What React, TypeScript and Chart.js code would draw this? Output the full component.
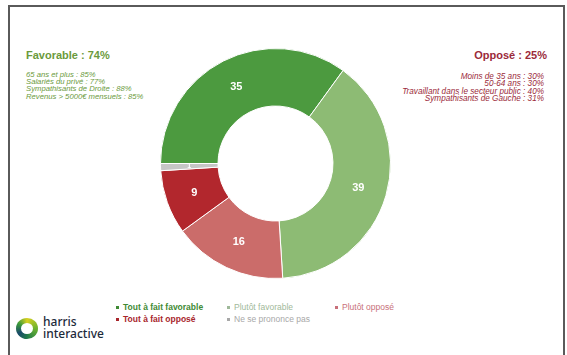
import React, { useEffect, useRef } from "react";
import { Chart, registerables } from "chart.js";

Chart.register(...registerables);

const categories = [
  "Tout à fait favorable",
  "Plutôt favorable",
  "Plutôt opposé",
  "Tout à fait opposé",
  "Ne se prononce pas",
];
const values = [35, 39, 16, 9, 1];
const colors = ["#4c9a3f", "#8dbb74", "#cb6c6a", "#b2272d", "#c6c6c6"];
const legendColors = ["#3f8a34", "#9fb99a", "#c8707a", "#a8262c", "#a8a8a8"];

const favTitle = "Favorable : 74%";
const favLines = [
  "65 ans et plus : 85%",
  "Salariés du privé : 77%",
  "Sympathisants de Droite : 88%",
  "Revenus > 5000€ mensuels : 85%",
];
const oppTitle = "Opposé : 25%";
const oppLines = [
  "Moins de 35 ans : 30%",
  "50-64 ans : 30%",
  "Travaillant dans le secteur public : 40%",
  "Sympathisants de Gauche : 31%",
];

const labelPlugin = {
  id: "sliceLabels",
  afterDatasetsDraw(chart: any) {
    const ctx = chart.ctx;
    const meta = chart.getDatasetMeta(0);
    ctx.save();
    ctx.fillStyle = "#ffffff";
    ctx.textAlign = "center";
    ctx.textBaseline = "middle";
    meta.data.forEach((arc: any, i: number) => {
      const p = arc.tooltipPosition();
      ctx.font =
        values[i] < 3
          ? "bold 7px 'Liberation Sans', Arial, sans-serif"
          : "bold 11px 'Liberation Sans', Arial, sans-serif";
      ctx.fillText(String(values[i]), p.x, p.y);
    });
    ctx.restore();
  },
};

export default function App() {
  const ref = useRef<HTMLCanvasElement | null>(null);
  useEffect(() => {
    if (!ref.current) return;
    const chart = new Chart(ref.current, {
      type: "doughnut",
      data: {
        labels: categories,
        datasets: [
          {
            data: values,
            backgroundColor: colors,
            borderColor: "#ffffff",
            borderWidth: 1,
          },
        ],
      },
      options: {
        animation: false,
        responsive: false,
        maintainAspectRatio: false,
        rotation: -90,
        cutout: "50%",
        layout: { padding: 0 },
        plugins: { legend: { display: false }, tooltip: { enabled: false } },
      },
      plugins: [labelPlugin],
    });
    return () => chart.destroy();
  }, []);

  const font = "'Liberation Sans', Arial, sans-serif";
  const legendItem = (i: number, left: number, top: number) => (
    <div
      key={i}
      style={{
        position: "absolute",
        left,
        top,
        fontFamily: font,
        fontSize: 8.5,
        fontWeight: i === 0 || i === 3 ? "bold" : "normal",
        color: legendColors[i],
        whiteSpace: "nowrap",
        lineHeight: "10px",
      }}
    >
      <span
        style={{
          display: "inline-block",
          width: 3,
          height: 3,
          background: legendColors[i],
          marginRight: 4,
          verticalAlign: "middle",
        }}
      />
      {categories[i]}
    </div>
  );

  return (
    <div
      style={{
        position: "fixed",
        left: 0,
        top: 0,
        width: 567,
        height: 355,
        background: "#ffffff",
        overflow: "hidden",
      }}
    >
      <div
        style={{
          position: "absolute",
          left: 8,
          top: 5,
          width: 553,
          height: 360,
          border: "2px solid #5a5a5a",
        }}
      />
      <canvas
        ref={ref}
        width={231}
        height={231}
        style={{ position: "absolute", left: 160, top: 48, width: 231, height: 231 }}
      />
      <div
        style={{
          position: "absolute",
          left: 26,
          top: 49,
          fontFamily: font,
          fontWeight: "bold",
          fontSize: 11,
          color: "#6b9a3c",
        }}
      >
        {favTitle}
      </div>
      <div
        style={{
          position: "absolute",
          left: 26,
          top: 71,
          fontFamily: font,
          fontStyle: "italic",
          fontSize: 7.7,
          lineHeight: "7.2px",
          color: "#6b9a3c",
        }}
      >
        {favLines.map((t, i) => (
          <div key={i}>{t}</div>
        ))}
      </div>
      <div
        style={{
          position: "absolute",
          right: 20,
          top: 49,
          fontFamily: font,
          fontWeight: "bold",
          fontSize: 11,
          color: "#9b2a3a",
          textAlign: "right",
        }}
      >
        {oppTitle}
      </div>
      <div
        style={{
          position: "absolute",
          right: 23,
          top: 73,
          fontFamily: font,
          fontStyle: "italic",
          fontSize: 8.2,
          lineHeight: "7.4px",
          color: "#9b2a3a",
          textAlign: "right",
        }}
      >
        {oppLines.map((t, i) => (
          <div key={i}>{t}</div>
        ))}
      </div>
      {legendItem(0, 116, 302)}
      {legendItem(1, 227, 302)}
      {legendItem(2, 335, 302)}
      {legendItem(3, 116, 314)}
      {legendItem(4, 227, 314)}
      <div
        style={{
          position: "absolute",
          left: 16,
          top: 318,
          width: 22,
          height: 21,
          borderRadius: "50%",
          background:
            "conic-gradient(#d8d020 0deg, #6cb22e 90deg, #1f7a4a 180deg, #1a4a6a 240deg, #3a9a3a 300deg, #d8d020 360deg)",
        }}
      >
        <div
          style={{
            position: "absolute",
            left: 5,
            top: 5,
            width: 12,
            height: 11,
            borderRadius: "50%",
            background: "#ffffff",
          }}
        />
      </div>
      <div
        style={{
          position: "absolute",
          left: 43,
          top: 316,
          fontFamily: "'Noto Sans', sans-serif",
          fontSize: 12,
          lineHeight: "12px",
          color: "#1c2a3a",
          fontWeight: 500,
        }}
      >
        <div>harris</div>
        <div>interactive</div>
      </div>
    </div>
  );
}
